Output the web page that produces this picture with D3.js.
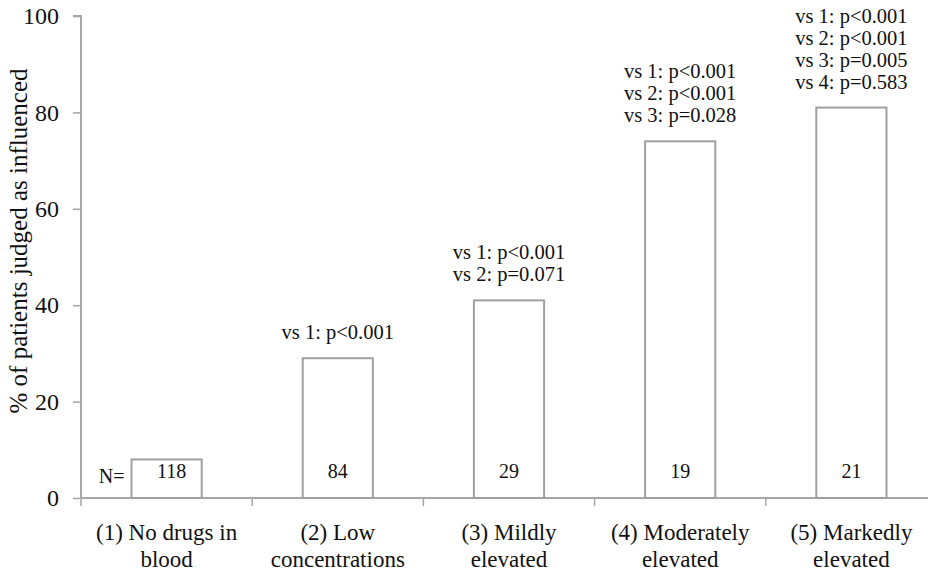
<!DOCTYPE html>
<html>
<head>
<meta charset="utf-8">
<script src="https://cdn.jsdelivr.net/npm/d3@7"></script>
<style>
  body { margin: 0; background: #fff; }
</style>
</head>
<body>
<div id="chart"></div>
<script>
// data
var categories = [
  ["(1) No drugs in", "blood"],
  ["(2) Low", "concentrations"],
  ["(3) Mildly", "elevated"],
  ["(4) Moderately", "elevated"],
  ["(5) Markedly", "elevated"]
];
var percentInfluenced = [8, 29, 41, 74, 81];
var counts = [118, 84, 29, 19, 21];
var pvalueLabels = [
  [],
  ["vs 1: p<0.001"],
  ["vs 1: p<0.001", "vs 2: p=0.071"],
  ["vs 1: p<0.001", "vs 2: p<0.001", "vs 3: p=0.028"],
  ["vs 1: p<0.001", "vs 2: p<0.001", "vs 3: p=0.005", "vs 4: p=0.583"]
];
var yTicks = [0, 20, 40, 60, 80, 100];

var serif = "'Liberation Serif', 'Times New Roman', serif";
var W = 928, H = 576;
var margin = { top: 16, right: -9, bottom: 78, left: 81 },
    width = W - margin.left - margin.right,
    height = H - margin.top - margin.bottom;

var svg = d3.select("#chart")
    .append("svg")
    .attr("width", W)
    .attr("height", H)
    .style("font-family", serif)
    .append("g")
    .attr("transform", "translate(" + margin.left + "," + margin.top + ")");

var data = categories.map(function (c, i) {
    return { idx: i, label: c, value: percentInfluenced[i], n: counts[i], notes: pvalueLabels[i] };
});

var x = d3.scaleBand()
    .domain(d3.range(categories.length))
    .range([0, width])
    .paddingInner(0.59)
    .paddingOuter(0.295);

var y = d3.scaleLinear()
    .domain([0, 100])
    .range([height, 0]);

var axisColor = "#a6a6a6";

// y axis
var yAxis = svg.append("g")
    .call(d3.axisLeft(y).tickValues(yTicks).tickSize(8).tickPadding(14));
yAxis.attr("font-family", null);
yAxis.select(".domain").attr("stroke", axisColor).attr("stroke-width", 2)
    .attr("d", "M0," + height + "V0H-8");
yAxis.selectAll(".tick line").attr("stroke", axisColor).attr("stroke-width", 1.5);
yAxis.selectAll(".tick text")
    .style("font-family", serif)
    .style("font-size", "24px")
    .attr("fill", "#111");

svg.append("text")
    .attr("transform", "rotate(-90)")
    .attr("x", -(241 - margin.top))
    .attr("y", -margin.left + 27)
    .style("text-anchor", "middle")
    .style("font-family", serif)
    .style("font-size", "25px")
    .attr("fill", "#111")
    .text("% of patients judged as influenced");

// x axis, ticks on category boundaries
var step = x.step();
var xAxis = svg.append("g")
    .attr("transform", "translate(0," + height + ")");
xAxis.append("line")
    .attr("x1", 0).attr("x2", width)
    .attr("stroke", axisColor).attr("stroke-width", 2);
xAxis.selectAll(".bound")
    .data(d3.range(categories.length + 1))
    .enter()
    .append("line")
    .attr("x1", function (d) { return d * step; })
    .attr("x2", function (d) { return d * step; })
    .attr("y1", 0).attr("y2", 8)
    .attr("stroke", axisColor).attr("stroke-width", 1.5);

xAxis.selectAll(".xlab")
    .data(data)
    .enter()
    .append("text")
    .attr("text-anchor", "middle")
    .style("font-family", serif)
    .style("font-size", "23px")
    .attr("fill", "#111")
    .attr("transform", function (d) { return "translate(" + (x(d.idx) + x.bandwidth() / 2) + ",0)"; })
    .each(function (d) {
        var t = d3.select(this);
        d.label.forEach(function (line, k) {
            t.append("tspan").attr("x", 0).attr("y", 42 + k * 27).text(line);
        });
    });

// bars
svg.selectAll(".bar")
    .data(data)
    .enter()
    .append("rect")
    .attr("x", function (d) { return x(d.idx); })
    .attr("y", function (d) { return y(d.value); })
    .attr("width", x.bandwidth())
    .attr("height", function (d) { return height - y(d.value); })
    .attr("fill", "#fff")
    .attr("stroke", "#a0a0a0")
    .attr("stroke-width", 2);

// counts inside bars
svg.selectAll(".count")
    .data(data)
    .enter()
    .append("text")
    .attr("x", function (d) { return x(d.idx) + x.bandwidth() / 2 + (d.idx === 0 ? 5 : 0); })
    .attr("y", height - 20)
    .attr("text-anchor", "middle")
    .style("font-family", serif)
    .style("font-size", "20px")
    .attr("fill", "#111")
    .text(function (d) { return d.n; });

svg.append("text")
    .attr("x", x(0) - 7)
    .attr("y", height - 15)
    .attr("text-anchor", "end")
    .style("font-family", serif)
    .style("font-size", "20px")
    .attr("fill", "#111")
    .text("N=");

// p-value notes above bars
svg.selectAll(".note")
    .data(data)
    .enter()
    .append("text")
    .attr("text-anchor", "middle")
    .style("font-family", serif)
    .style("font-size", "20.5px")
    .attr("fill", "#111")
    .each(function (d) {
        var t = d3.select(this);
        var n = d.notes.length;
        d.notes.forEach(function (line, k) {
            t.append("tspan")
                .attr("x", x(d.idx) + x.bandwidth() / 2)
                .attr("y", y(d.value) - 19 - (n - 1 - k) * 22)
                .text(line);
        });
    });
</script>
</body>
</html>
